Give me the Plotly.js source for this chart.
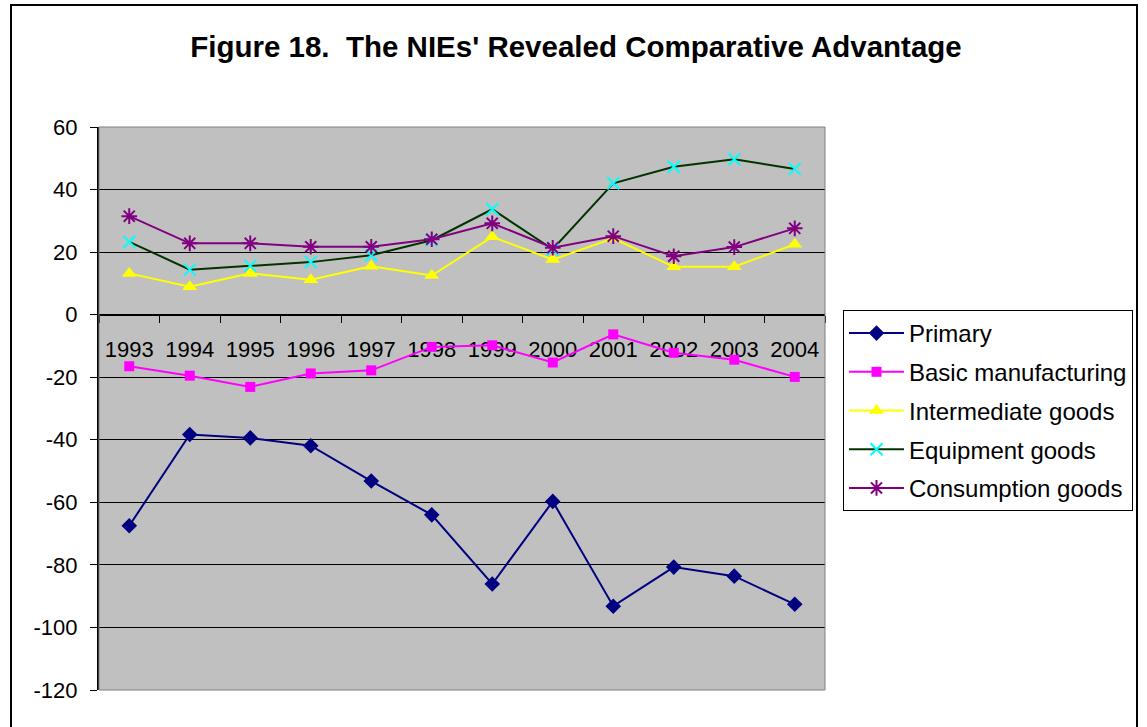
<!DOCTYPE html>
<html>
<head>
<meta charset="utf-8">
<script src="https://cdn.plot.ly/plotly-3.0.1.min.js"></script>
<style>html,body{margin:0;padding:0;background:#fff;}#chart{width:1147px;height:727px;}</style>
</head>
<body>
<div id="chart"></div>
<script>
const years = ["1993","1994","1995","1996","1997","1998","1999","2000","2001","2002","2003","2004"];
const primary = [-67.5,-38.3,-39.4,-41.9,-53.2,-64.0,-86.1,-59.7,-93.2,-80.7,-83.6,-92.6];
const basicManufacturing = [-16.5,-19.5,-23.1,-18.8,-17.8,-10.3,-9.8,-15.3,-6.3,-12.2,-14.4,-19.9];
const intermediateGoods = [13.2,8.9,13.2,11.2,15.5,12.5,24.9,17.6,24.4,15.3,15.3,22.5];
const equipmentGoods = [23.3,14.4,15.6,16.8,19.0,23.8,33.7,20.9,42.0,47.3,49.7,46.6];
const consumptionGoods = [31.5,22.8,22.8,21.7,21.7,24.1,29.2,21.4,25.1,18.7,21.6,27.6];
const seriesNames = ["Primary","Basic manufacturing","Intermediate goods","Equipment goods","Consumption goods"];
const yTicks = [60,40,20,0,-20,-40,-60,-80,-100,-120];

const FONT = "Liberation Sans, Arial, sans-serif";

function tr(name, y, lineColor, symbol, mColor, size, open, group) {
  const m = {symbol: symbol, size: size, color: mColor};
  if (open) { m.line = {color: mColor, width: 2}; }
  else { m.line = {width: 0}; }
  return {x: years, y: y, name: name, type: "scatter", mode: "lines+markers",
          line: {color: lineColor, width: 2}, marker: m, legendgroup: group, cliponaxis: false};
}

const data = [
  tr(seriesNames[0], primary, "#000080", "diamond", "#000080", 12, false, "a"),
  tr(seriesNames[1], basicManufacturing, "#FF00FF", "square", "#FF00FF", 10, false, "b"),
  tr(seriesNames[2], intermediateGoods, "#FFFF00", "triangle-up", "#FFFF00", 13, false, "c"),
  tr(seriesNames[3], equipmentGoods, "#003300", "x-thin-open", "#00FFFF", 12, true, "d"),
  tr(seriesNames[4], consumptionGoods, "#800080", "asterisk-open", "#800080", 13, true, "e")
];

const L = 99, R = 825, T = 127, B = 690;
const W = R - L, H = B - T;
function px(x){ return (x - L) / W; }
function py(y){ return (B - y) / H; }

const layout = {
  width: 1147, height: 727,
  margin: {l: L, r: 1147 - R, t: T, b: 727 - B, pad: 0},
  paper_bgcolor: "#FFFFFF",
  plot_bgcolor: "#C0C0C0",
  font: {family: FONT, size: 22, color: "#000"},
  title: {text: "<b>Figure 18.  The NIEs' Revealed Comparative Advantage</b>",
          font: {family: FONT, size: 29.5, color: "#000"},
          x: 576/1147, xanchor: "center", xref: "container",
          y: 1 - 47/727, yanchor: "middle", yref: "container"},
  xaxis: {type: "category", range: [-0.5, 11.5], anchor: "free", position: 120/180,
          showline: true, linecolor: "#000", linewidth: 1,
          ticks: "outside", tickson: "boundaries", ticklen: 7, tickcolor: "#000", tickwidth: 1,
          showgrid: false, zeroline: false, tickfont: {family: FONT, size: 22, color: "#000"},
          ticklabelstandoff: 15, layer: "below traces", fixedrange: true},
  yaxis: {range: [-120, 60], tickvals: yTicks, ticktext: yTicks.map(String),
          showline: true, linecolor: "#000", linewidth: 2,
          ticks: "outside", ticklen: 7, tickcolor: "#000",
          showgrid: true, gridcolor: "#000", gridwidth: 1, zeroline: false,
          tickfont: {family: FONT, size: 22, color: "#000"}, ticklabelstandoff: 8},
  showlegend: true,
  legend: {x: px(843), xanchor: "left", y: py(310), yanchor: "top",
           bgcolor: "#FFFFFF", bordercolor: "#000", borderwidth: 1,
           font: {family: FONT, size: 24, color: "#000"},
           traceorder: "grouped", tracegroupgap: 4.5, itemwidth: 55},
  shapes: [
    {type: "rect", xref: "paper", yref: "paper", x0: 0, x1: 1, y0: 0, y1: 1,
     line: {color: "#808080", width: 1}, fillcolor: "rgba(0,0,0,0)", layer: "above"},
    {type: "rect", xref: "paper", yref: "paper", x0: px(11), x1: px(1137), y0: py(5), y1: py(740),
     line: {color: "#000", width: 2}, fillcolor: "rgba(0,0,0,0)"}
  ]
};

Plotly.newPlot("chart", data, layout, {displayModeBar: false, staticPlot: true});
</script>
</body>
</html>
